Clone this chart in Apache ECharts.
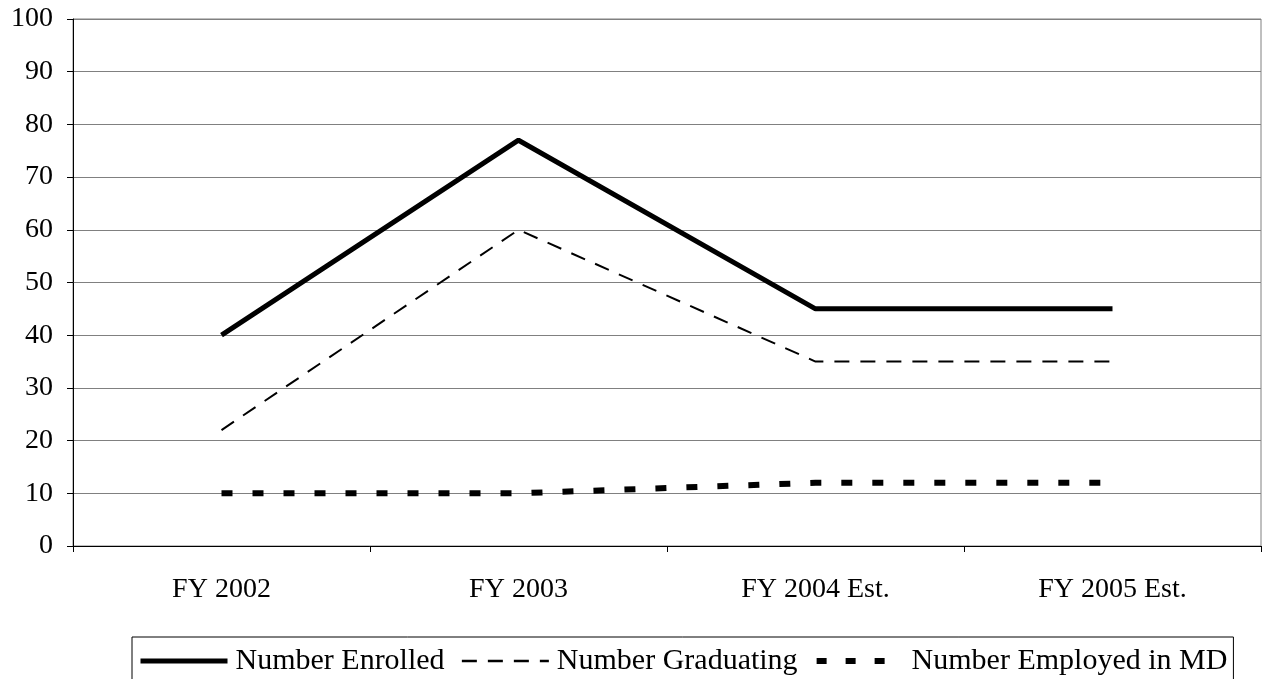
<!DOCTYPE html>
<html>
<head>
<meta charset="utf-8">
<script src="https://cdn.jsdelivr.net/npm/echarts@6/dist/echarts.min.js"></script>
<style>
  html, body { margin: 0; padding: 0; background: #fff; }
  #chart { width: 1264px; height: 679px; }
</style>
</head>
<body>
<div id="chart"></div>
<script>
// Program figures by fiscal year
const categories = ['FY 2002', 'FY 2003', 'FY 2004 Est.', 'FY 2005 Est.'];
const enrolled = [40, 77, 45, 45];
const graduating = [22, 60, 35, 35];
const employedInMD = [10, 10, 12, 12];
const seriesNames = ['Number Enrolled', 'Number Graduating', 'Number Employed in MD'];

const FONT = '"Liberation Serif", "Times New Roman", serif';

// Stroke styles for the three lines
const enrolledStroke = { color: '#000', width: 5, type: 'solid' };
const graduatingStroke = { color: '#000', width: 2, type: [15, 11] };
const employedStroke = { color: '#000', width: 6, type: [11, 20], cap: 'butt' };

const chart = echarts.init(document.getElementById('chart'), null, { renderer: 'canvas' });

chart.setOption({
  animation: false,
  backgroundColor: '#ffffff',
  grid: {
    left: 73, right: 3, top: 19, bottom: 133,
    show: true, borderColor: '#808080', borderWidth: 1, backgroundColor: 'transparent'
  },
  legend: {
    left: 132, top: 637,
    itemWidth: 87, itemHeight: 14, itemGap: 16,
    borderColor: '#000', borderWidth: 1,
    padding: [9, 6, 30, 6],
    itemStyle: { color: 'transparent', borderWidth: 0, opacity: 0 },
    textStyle: { fontFamily: FONT, fontSize: 30, color: '#000', padding: [0, 0, 0, 3] },
    data: [
      { name: seriesNames[0], lineStyle: { color: '#000', width: 5, type: 'solid' } },
      { name: seriesNames[1], lineStyle: { color: '#000', width: 2.5, type: [15, 11] } },
      { name: seriesNames[2], lineStyle: { color: '#000', width: 6, type: [10, 19], cap: 'butt' } }
    ]
  },
  xAxis: {
    type: 'category',
    data: categories,
    boundaryGap: true,
    axisLine: { lineStyle: { color: '#000', width: 1 } },
    axisTick: { show: true, length: 6, lineStyle: { color: '#000' } },
    axisLabel: { margin: 30, fontFamily: FONT, fontSize: 28, color: '#000' },
    splitLine: { show: false }
  },
  yAxis: {
    type: 'value',
    min: 0, max: 100, interval: 10,
    axisLine: { show: true, lineStyle: { color: '#000', width: 1 } },
    axisTick: { show: true, length: 6, lineStyle: { color: '#000' } },
    axisLabel: { margin: 20, fontFamily: FONT, fontSize: 28, color: '#000' },
    splitLine: { show: true, lineStyle: { color: '#808080', width: 1 } }
  },
  series: [
    {
      name: seriesNames[0], type: 'line', data: enrolled,
      symbol: 'none', color: '#000', lineStyle: enrolledStroke
    },
    {
      name: seriesNames[1], type: 'line', data: graduating,
      symbol: 'none', color: '#000', lineStyle: graduatingStroke
    },
    {
      name: seriesNames[2], type: 'line', data: employedInMD,
      symbol: 'none', color: '#000', lineStyle: employedStroke
    }
  ]
});
</script>
</body>
</html>
